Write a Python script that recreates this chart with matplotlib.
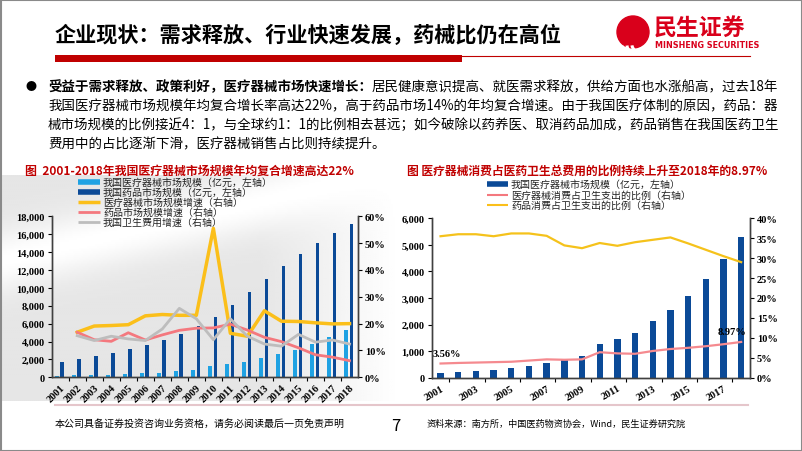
import numpy as np
import matplotlib
matplotlib.use("Agg")
import matplotlib.pyplot as plt
from matplotlib.patches import Rectangle, Circle, Arc
from matplotlib.ticker import FuncFormatter

plt.rcParams['font.family'] = ['Noto Sans CJK SC', 'DejaVu Sans']

# -----------------------------------------------
# data
years = [str(y) for y in range(2001, 2019)]
# 亿元
device_size = [179, 210, 260, 300, 360, 434, 535, 659, 812, 1260, 1470, 1700, 2120, 2556, 3080, 3700, 4450, 5304]
drug_size = [1700, 2040, 2350, 2680, 3130, 3575, 4130, 4800, 5700, 6740, 8080, 9570, 10980, 12470, 13810, 14970, 16120, 17100]
# growth, %  (first year has no value)
device_growth = [np.nan, 16.8, 19.1, 19.3, 19.6, 22.9, 23.4, 23.1, 23.1, 55.5, 16.4, 15.3, 24.8, 20.9, 20.8, 20.3, 19.9, 20.0]
drug_growth = [np.nan, 16.8, 14.0, 13.4, 16.6, 13.9, 15.8, 17.5, 18.3, 18.4, 19.8, 17.6, 14.9, 13.3, 11.0, 8.4, 7.5, 6.2]
health_growth = [np.nan, 15.5, 13.7, 15.3, 14.3, 13.7, 18.0, 25.7, 21.8, 14.0, 21.8, 15.3, 12.4, 11.6, 16.0, 13.1, 13.9, 12.4]
# share of total health spending, %
device_share = [3.56, 3.7, 3.8, 3.9, 4.0, 4.3, 4.6, 4.5, 4.6, 6.4, 6.1, 6.0, 6.7, 7.2, 7.5, 7.9, 8.4, 8.97]
drug_share = [35.5, 36.0, 36.0, 35.5, 36.2, 36.2, 35.6, 33.2, 32.5, 33.8, 33.1, 34.0, 34.6, 35.2, 33.7, 32.1, 30.5, 29.0]

legend_left = ['我国医疗器械市场规模（亿元，左轴）', '我国药品市场规模（亿元，左轴）',
               '医疗器械市场规模增速（右轴）', '药品市场规模增速（右轴）', '我国卫生费用增速（右轴）']
legend_right = ['我国医疗器械市场规模（亿元，左轴）', '医疗器械消费占卫生支出的比例（右轴）',
                '药品消费占卫生支出的比例（右轴）']

LIGHT = '#1fa2e3'
DARK = '#0b4a97'
YELLOW = '#fbbf1a'
PINK = '#f4787e'
GRAY = '#bdbdbd'
RED = '#c00000'
NUMFONT = dict(family='Liberation Serif', fontweight='bold', fontsize=7.5)

W, H = 802, 452
fig = plt.figure(figsize=(W / 100, H / 100), dpi=100)

# background axes in pixel coordinates, for the slide furniture
bg = fig.add_axes([0, 0, 1, 1])
bg.set_xlim(0, W)
bg.set_ylim(H, 0)
bg.axis('off')

# faint grey swoosh behind the left chart
gx, gy = np.meshgrid(np.linspace(0, 400, 200), np.linspace(176, 402, 120))
d = (gy - (262 - 0.23 * gx)) / np.sqrt(1 + 0.23 ** 2)
shade = 0.90 + 0.10 * np.exp(-(d / 30) ** 2)
shade = shade + (1 - shade) * np.clip((gx - 260) / 140, 0, 1)
bg.imshow(shade, cmap='gray', vmin=0, vmax=1, extent=(0, 400, 402, 176),
          aspect='auto', interpolation='bilinear', zorder=0)

bg.add_patch(Rectangle((0.5, 0.5), W - 1, H - 1, fill=False, ec='#8a8a8a', lw=1.5))

# header
bg.text(55, 35, '企业现状：需求释放、行业快速发展，药械比仍在高位', fontsize=15.2,
        fontweight='bold', va='center', ha='left')
bg.add_patch(Rectangle((55, 56), 407, 7, color=RED, lw=0))
bg.plot([462, 750], [57, 57], color=RED, lw=0.8)

# logo
bg.add_patch(Circle((633, 33), 16, color='#d9001b'))
for r in (10, 15, 20):
    bg.add_patch(Arc((642, 46), r * 2, r * 1.5, theta1=115, theta2=178, color='white', lw=2.2))
bg.text(654, 29, '民生证券', fontsize=16.5, fontweight='bold', color='#d9001b', va='center', ha='left')
bg.text(655, 45, 'MINSHENG SECURITIES', fontsize=5.8, fontweight='bold', color='#d9001b',
        va='center', ha='left', family='DejaVu Sans')

# bullet text
bg.text(26, 87, '●', fontsize=8, va='center', ha='left')
t1 = bg.text(48, 87, '受益于需求释放、政策利好，医疗器械市场快速增长：', fontsize=9.7,
             fontweight='bold', va='center', ha='left')
bg.annotate('居民健康意识提高、就医需求释放，供给方面也水涨船高，过去18年', xy=(1, 0.5),
            xycoords=t1, va='center', ha='left', fontsize=9.7)
body = ['我国医疗器械市场规模年均复合增长率高达22%，高于药品市场14%的年均复合增速。由于我国医疗体制的原因，药品：器',
        '械市场规模的比例接近4：1，与全球约1：1的比例相去甚远；如今破除以药养医、取消药品加成，药品销售在我国医药卫生',
        '费用中的占比逐渐下滑，医疗器械销售占比则持续提升。']
for i, line in enumerate(body):
    bg.text(48, 106 + 19 * i, line, fontsize=9.7, va='center', ha='left')

# chart titles
bg.text(25, 171, '图  2001-2018年我国医疗器械市场规模年均复合增速高达22%', fontsize=8.6,
        fontweight='bold', color=RED, va='center', ha='left')
bg.text(407, 171, '图 医疗器械消费占医药卫生总费用的比例持续上升至2018年的8.97%', fontsize=8.5,
        fontweight='bold', color=RED, va='center', ha='left')

# manual legends
def legend_rows(x0, x1, ys, labels, styles):
    for y, lab, (c, lw) in zip(ys, labels, styles):
        bg.plot([x0, x1], [y, y], color=c, lw=lw, solid_capstyle='butt')
        bg.text(x1 + 3, y, lab, fontsize=7.2, va='center', ha='left', color='#222222')

legend_rows(78, 100, [182.7, 192.7, 202.7, 212.7, 222.7], legend_left,
            [(LIGHT, 4), (DARK, 4), (YELLOW, 2.5), (PINK, 2), (GRAY, 2)])
legend_rows(487, 508, [185, 195.5, 206], legend_right,
            [(DARK, 4), (PINK, 1.5), (YELLOW, 1.5)])

# footer
bg.plot([55, 748], [405.5, 405.5], color='#e5c6cb', lw=1.5)
bg.text(55, 424, '本公司具备证券投资咨询业务资格，请务必阅读最后一页免责声明', fontsize=7.2,
        va='center', ha='left')
bg.text(396, 427, '7', fontsize=12, va='center', ha='center')
bg.text(427, 424, '资料来源：南方所，中国医药物资协会，Wind，民生证券研究院', fontsize=6.6,
        va='center', ha='left')


def style_axes(ax, twin):
    for ax_ in (ax, twin):
        ax_.set_facecolor('none')
        ax_.spines['top'].set_visible(False)
        for s in ('left', 'right', 'bottom'):
            ax_.spines[s].set_color('#404040')
            ax_.spines[s].set_linewidth(1)
    ax.tick_params(axis='y', direction='out', length=3, width=0.8, pad=2)
    twin.tick_params(axis='y', direction='out', length=3, width=0.8, pad=2)
    for lab in ax.get_yticklabels() + twin.get_yticklabels():
        lab.set(**NUMFONT)


def axes_px(x0, x1, y0, y1):
    return fig.add_axes([x0 / W, 1 - y1 / H, (x1 - x0) / W, (y1 - y0) / H])


x = np.arange(len(years))

# -----------------------------------------------
# left chart
axL = axes_px(51.7, 358, 217.3, 378.3)
axL.bar(x - 0.2, device_size, 0.22, color=LIGHT, zorder=2)
axL.bar(x + 0.12, drug_size, 0.22, color=DARK, zorder=2)
axL.set_xlim(-0.5, len(years) - 0.5)
axL.set_ylim(0, 18000)
axL.set_yticks(range(0, 18001, 2000))
axL.yaxis.set_major_formatter(FuncFormatter(lambda v, p: f'{int(v):,}'))
axL.set_xticks(x)
axL.set_xticklabels(years, rotation=45, ha='right', rotation_mode='anchor', **NUMFONT)
axL.set_xticks(x[:-1] + 0.5, minor=True)
axL.tick_params(axis='x', which='major', length=0, pad=4)
axL.tick_params(axis='x', which='minor', length=3, width=0.8, direction='out')

axL2 = axL.twinx()
axL2.plot(x, device_growth, color=YELLOW, lw=2.5)
axL2.plot(x, drug_growth, color=PINK, lw=2)
axL2.plot(x, health_growth, color=GRAY, lw=2)
axL2.set_ylim(0, 60)
axL2.set_yticks(range(0, 61, 10))
axL2.yaxis.set_major_formatter(FuncFormatter(lambda v, p: f'{int(v)}%'))
style_axes(axL, axL2)

# -----------------------------------------------
# right chart
axR = axes_px(431.7, 750, 219.3, 378.7)
axR.bar(x, device_size, 0.36, color=DARK, zorder=2)
axR.set_xlim(-0.5, len(years) - 0.5)
axR.set_ylim(0, 6000)
axR.set_yticks(range(0, 6001, 1000))
axR.yaxis.set_major_formatter(FuncFormatter(lambda v, p: f'{int(v):,}'))
axR.set_xticks(x[::2])
axR.set_xticklabels(years[::2], rotation=30, ha='right', rotation_mode='anchor', **NUMFONT)
axR.set_xticks(x[:-1:2] + 0.5, minor=True)
axR.tick_params(axis='x', which='major', length=0, pad=4)
axR.tick_params(axis='x', which='minor', length=3, width=0.8, direction='out')

axR2 = axR.twinx()
axR2.plot(x, device_share, color='#f58a8f', lw=1.6)
axR2.plot(x, drug_share, color='#f5c21b', lw=1.6)
axR2.set_ylim(0, 40)
axR2.set_yticks(range(0, 41, 5))
axR2.yaxis.set_major_formatter(FuncFormatter(lambda v, p: f'{int(v)}%'))
axR2.annotate(f'{device_share[0]:.2f}%', (x[0], device_share[0]), xytext=(-6, 4),
              textcoords='offset points', ha='left', va='bottom', **NUMFONT)
axR2.annotate(f'{device_share[-1]:.2f}%', (x[-1], device_share[-1]), xytext=(4, 4),
              textcoords='offset points', ha='right', va='bottom', **NUMFONT)
style_axes(axR, axR2)

fig.savefig('out.png', dpi=100)
